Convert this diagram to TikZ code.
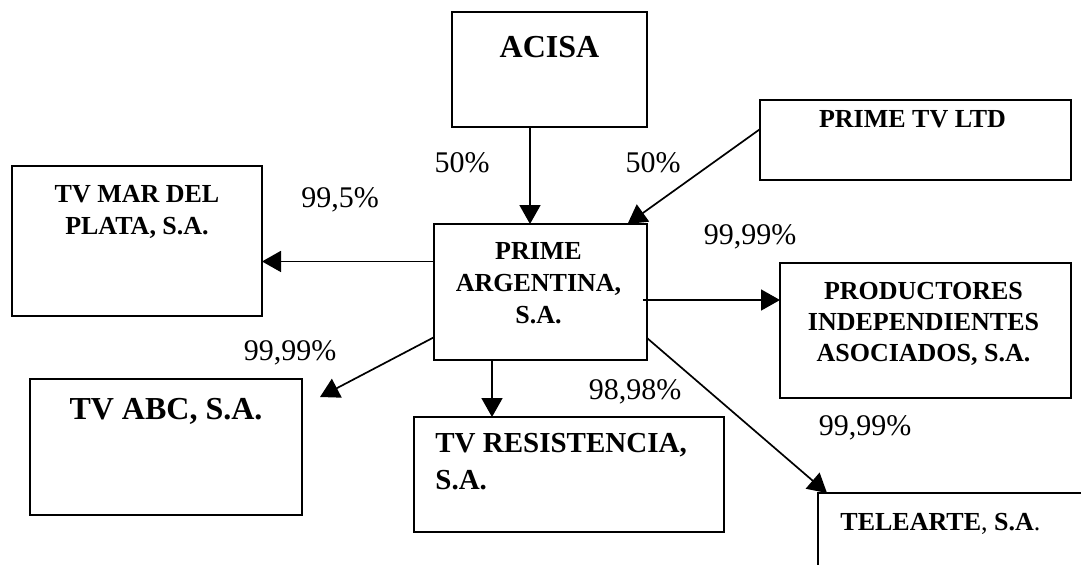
\documentclass[tikz,border=0pt]{standalone}
\usepackage{fontspec}
\setmainfont{Liberation Serif}
\usetikzlibrary{arrows.meta}

\begin{document}
\begin{tikzpicture}[x=0.5pt,y=-0.5pt,
		firm/.style={draw,line width=1pt,inner sep=0pt,outer sep=0pt},
		own/.style={line width=0.85pt,-{Triangle[length=9.5pt,width=10.5pt]}},
		pct/.style={inner sep=0pt,font=\fontsize{15}{18}\selectfont},
		firmtext/.style={inner sep=0pt,align=center,font=\fontsize{13}{16}\selectfont\bfseries}]
		\useasboundingbox (0,0) rectangle (1081,564);

		% owners
		\node[firm,minimum width=97.5pt,minimum height=57.5pt,
			label={[firmtext,font=\fontsize{16}{19}\selectfont\bfseries,below=12pt]north:ACISA}] (acisa) at (549.5,69.5) {};
		\node[firm,minimum width=155.5pt,minimum height=40pt,
			label={[firmtext,below=5pt,xshift=-1.5pt]north:PRIME TV LTD}] (primetv) at (915.5,140) {};

		% holding
		\node[firm,minimum width=106.5pt,minimum height=68pt,
			label={[firmtext,below=9pt,xshift=-1pt]north:PRIME\\ARGENTINA,\\S.A.}] (prime) at (540.5,292) {};

		% subsidiaries
		\node[firm,minimum width=125pt,minimum height=75pt,
			label={[firmtext,below=9.5pt]north:TV MAR DEL\\PLATA, S.A.}] (mardel) at (137,241) {};
		\node[firm,minimum width=136pt,minimum height=68pt,
			label={[firmtext,font=\fontsize{16}{19}\selectfont\bfseries,below=9.5pt]north:TV ABC, S.A.}] (abc) at (166,447) {};
		\node[firm,minimum width=155pt,minimum height=57.5pt,
			label={[firmtext,align=left,font=\fontsize{14.5}{18.5}\selectfont\bfseries,anchor=north west,xshift=10.5pt,yshift=-8pt]north west:TV RESISTENCIA,\\S.A.}] (resist) at (569,474.5) {};
		\node[firm,minimum width=145.5pt,minimum height=67.5pt,
			label={[firmtext,font=\fontsize{13}{15.5}\selectfont\bfseries,below=9.5pt,xshift=-1pt]north:PRODUCTORES\\INDEPENDIENTES\\ASOCIADOS, S.A.}] (prod) at (925.5,330.5) {};
		\node[firm,anchor=north west,minimum width=150pt,minimum height=60pt,
			label={[firmtext,anchor=north west,xshift=11pt,yshift=-10pt]north west:TELEARTE{\mdseries,} S.A{\mdseries.}}] (telearte) at (818,493) {};

		% shares
		\node[pct] (sAcisa) at (462,163) {50\%};
		\node[pct] (sPrimetv) at (653,163) {50\%};
		\node[pct] (sMardel) at (340,200) {99,5\%};
		\node[pct] (sAbc) at (290,353) {99,99\%};
		\node[pct] (sResist) at (635,392) {98,98\%};
		\node[pct] (sProd) at (750,237) {99,99\%};
		\node[pct] (sTelearte) at (865,428) {99,99\%};

		\draw[own] ([xshift=-9.75pt]acisa.south) -- ([xshift=-9.75pt]acisa.south |- prime.north);
		\draw[own] (primetv.176) -- (prime.38);
		\draw[own] (prime.164) -- (prime.164 -| mardel.east);
		\draw[own] (prime.203) -- ([shift={(9pt,-9pt)}]abc.north east);
		\draw[own] ([xshift=-24.25pt]prime.south) -- ([xshift=-24.25pt]prime.south |- resist.north);
		\draw[own] ([shift={(-2pt,-4pt)}]prime.east) -- ([yshift=-4pt]prime.east -| prod.west);
		\draw[own] ([yshift=-23pt]prime.east) -- ([xshift=4.5pt]telearte.north west);
	\end{tikzpicture}
\end{document}
